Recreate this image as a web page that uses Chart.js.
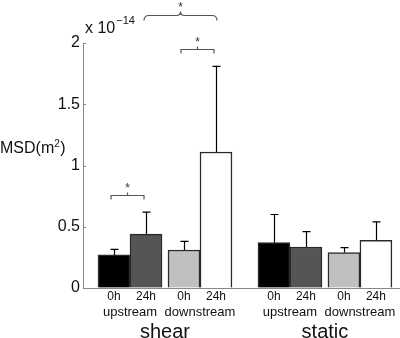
<!DOCTYPE html>
<html lang="en">
<head>
<meta charset="UTF-8">
<title>MSD shear vs static</title>
<style>
  body { margin: 0; background: #fff; }
  canvas { display: block; }
</style>
</head>
<body>
<canvas id="msdChart" width="400" height="338"></canvas>

<script src="https://cdn.jsdelivr.net/npm/chart.js"></script>
<script>
// data (units of 1e-14 m^2)
const groups = ['shear', 'static'];
const locations = ['upstream', 'downstream'];
const times = ['0h', '24h'];
const msdMean = [0.27, 0.44, 0.31, 1.11, 0.37, 0.335, 0.29, 0.39];
const msdErr = [0.045, 0.18, 0.07, 0.70, 0.23, 0.125, 0.04, 0.15];
const yTickLabels = ['0', '0.5', '1', '1.5', '2'];
const sigPairs = [[0, 1], [2, 3], [1, 3]]; // bars compared with *

const barColors = ['#000000', '#555555', '#c0c0c0', '#ffffff'];
const FONT = '"Liberation Sans", Arial, Helvetica, sans-serif';

// bar slots: one unit per bar, small gap between locations, big gap between groups
const PAIR_STEP = 2.1875, GROUP_STEP = 5.0;
const points = [];
const colors = [];
groups.forEach((g, gi) => {
  locations.forEach((l, li) => {
    times.forEach((t, ti) => {
      const i = points.length;
      points.push({ x: gi * GROUP_STEP + li * PAIR_STEP + ti, y: msdMean[i] });
      colors.push(barColors[li * 2 + ti]);
    });
  });
});

const extras = {
  id: 'extras',
  afterDatasetsDraw(chart) {
    const { ctx, scales: { x, y }, chartArea } = chart;
    ctx.save();

    // error bars (upward only)
    ctx.strokeStyle = '#000';
    ctx.lineWidth = 1.2;
    points.forEach((p, i) => {
      const px = Math.round(x.getPixelForValue(p.x)) + 0.5;
      const y0 = y.getPixelForValue(p.y);
      const y1 = y.getPixelForValue(p.y + msdErr[i]);
      ctx.beginPath();
      ctx.moveTo(px, y0); ctx.lineTo(px, y1);
      ctx.moveTo(px - 4, y1); ctx.lineTo(px + 4, y1);
      ctx.stroke();
    });

    // small inside ticks on y axis
    ctx.strokeStyle = '#888';
    ctx.lineWidth = 1;
    yTickLabels.forEach(lbl => {
      const py = Math.round(y.getPixelForValue(parseFloat(lbl))) + 0.5;
      ctx.beginPath();
      ctx.moveTo(chartArea.left, py); ctx.lineTo(chartArea.left + 3, py);
      ctx.stroke();
    });

    // category labels
    ctx.fillStyle = '#111';
    ctx.textAlign = 'center';
    ctx.textBaseline = 'middle';
    const bottom = chartArea.bottom;
    ctx.font = '12px ' + FONT;
    points.forEach((p, i) => {
      ctx.fillText(times[i % 2], x.getPixelForValue(p.x), bottom + 9);
    });
    groups.forEach((g, gi) => {
      ctx.font = '13px ' + FONT;
      locations.forEach((l, li) => {
        const c = gi * GROUP_STEP + li * PAIR_STEP + 0.5;
        ctx.fillText(l, x.getPixelForValue(c), bottom + 24);
      });
      const gc = gi * GROUP_STEP + (PAIR_STEP + 1) / 2;
      ctx.font = '20px ' + FONT;
      ctx.fillText(g, x.getPixelForValue(gc), bottom + 44);
    });

    // axis multiplier
    ctx.textAlign = 'left';
    ctx.font = '16px ' + FONT;
    ctx.fillText('x 10', chartArea.left + 2, 29);
    const mw = ctx.measureText('x 10').width;
    ctx.font = '11px ' + FONT;
    ctx.fillText('\u221214', chartArea.left + 3 + mw, 21);

    // y title
    ctx.font = '16px ' + FONT;
    ctx.fillText('MSD(m', 0, 149);
    const w = ctx.measureText('MSD(m').width;
    ctx.font = '10px ' + FONT;
    ctx.fillText('2', w, 144);
    ctx.font = '16px ' + FONT;
    ctx.fillText(')', w + 6, 149);

    // significance brackets
    ctx.strokeStyle = '#555';
    ctx.lineWidth = 1.2;
    ctx.fillStyle = '#333';
    ctx.textAlign = 'center';
    ctx.font = '12px ' + FONT;
    const bracketLevels = [0.76, 1.95];
    sigPairs.slice(0, 2).forEach((pr, k) => {
      const xa = x.getPixelForValue(points[pr[0]].x) - 3;
      const xb = x.getPixelForValue(points[pr[1]].x) - 2;
      const by = Math.round(y.getPixelForValue(bracketLevels[k])) + 0.5;
      ctx.beginPath();
      ctx.moveTo(xa, by + 4); ctx.lineTo(xa, by); ctx.lineTo(xb, by); ctx.lineTo(xb, by + 4);
      ctx.moveTo((xa + xb) / 2, by); ctx.lineTo((xa + xb) / 2, by - 3);
      ctx.stroke();
      ctx.fillText('*', (xa + xb) / 2, by - 7);
    });

    // curly brace
    const pr = sigPairs[2];
    const xa = x.getPixelForValue(points[pr[0]].x) - 2;
    const xb = x.getPixelForValue(points[pr[1]].x) + 1;
    const xm = (xa + xb) / 2;
    const by = 15.5;
    ctx.beginPath();
    ctx.moveTo(xa, by + 5);
    ctx.quadraticCurveTo(xa, by, xa + 5, by);
    ctx.lineTo(xm - 4, by);
    ctx.quadraticCurveTo(xm, by, xm, by - 4);
    ctx.quadraticCurveTo(xm, by, xm + 4, by);
    ctx.lineTo(xb - 5, by);
    ctx.quadraticCurveTo(xb, by, xb, by + 5);
    ctx.stroke();
    ctx.fillText('*', xm, by - 8);

    ctx.restore();
  }
};

new Chart(document.getElementById('msdChart'), {
  type: 'bar',
  data: {
    datasets: [{
      data: points,
      backgroundColor: colors,
      borderColor: '#2a2a2a',
      borderWidth: 1.5,
      barThickness: 32
    }]
  },
  options: {
    responsive: false,
    animation: false,
    layout: { padding: { top: 43, right: 0, left: 0, bottom: 0 } },
    plugins: { legend: { display: false }, tooltip: { enabled: false } },
    scales: {
      x: {
        type: 'linear',
        offset: false,
        min: -0.97,
        max: 8.94,
        ticks: { display: false },
        grid: { drawOnChartArea: false, drawTicks: false, offset: false },
        border: { color: '#888', width: 1 },
        afterFit(scale) { scale.height = 50; }
      },
      y: {
        min: 0,
        max: 2,
        ticks: {
          stepSize: 0.5,
          padding: 3,
          color: '#111',
          font: { family: FONT, size: 16 },
          callback: (v, i) => yTickLabels[i]
        },
        grid: { drawOnChartArea: false, drawTicks: false },
        border: { color: '#888', width: 1 },
        afterFit(scale) { scale.width = 83; }
      }
    }
  },
  plugins: [extras]
});
</script>
</body>
</html>
